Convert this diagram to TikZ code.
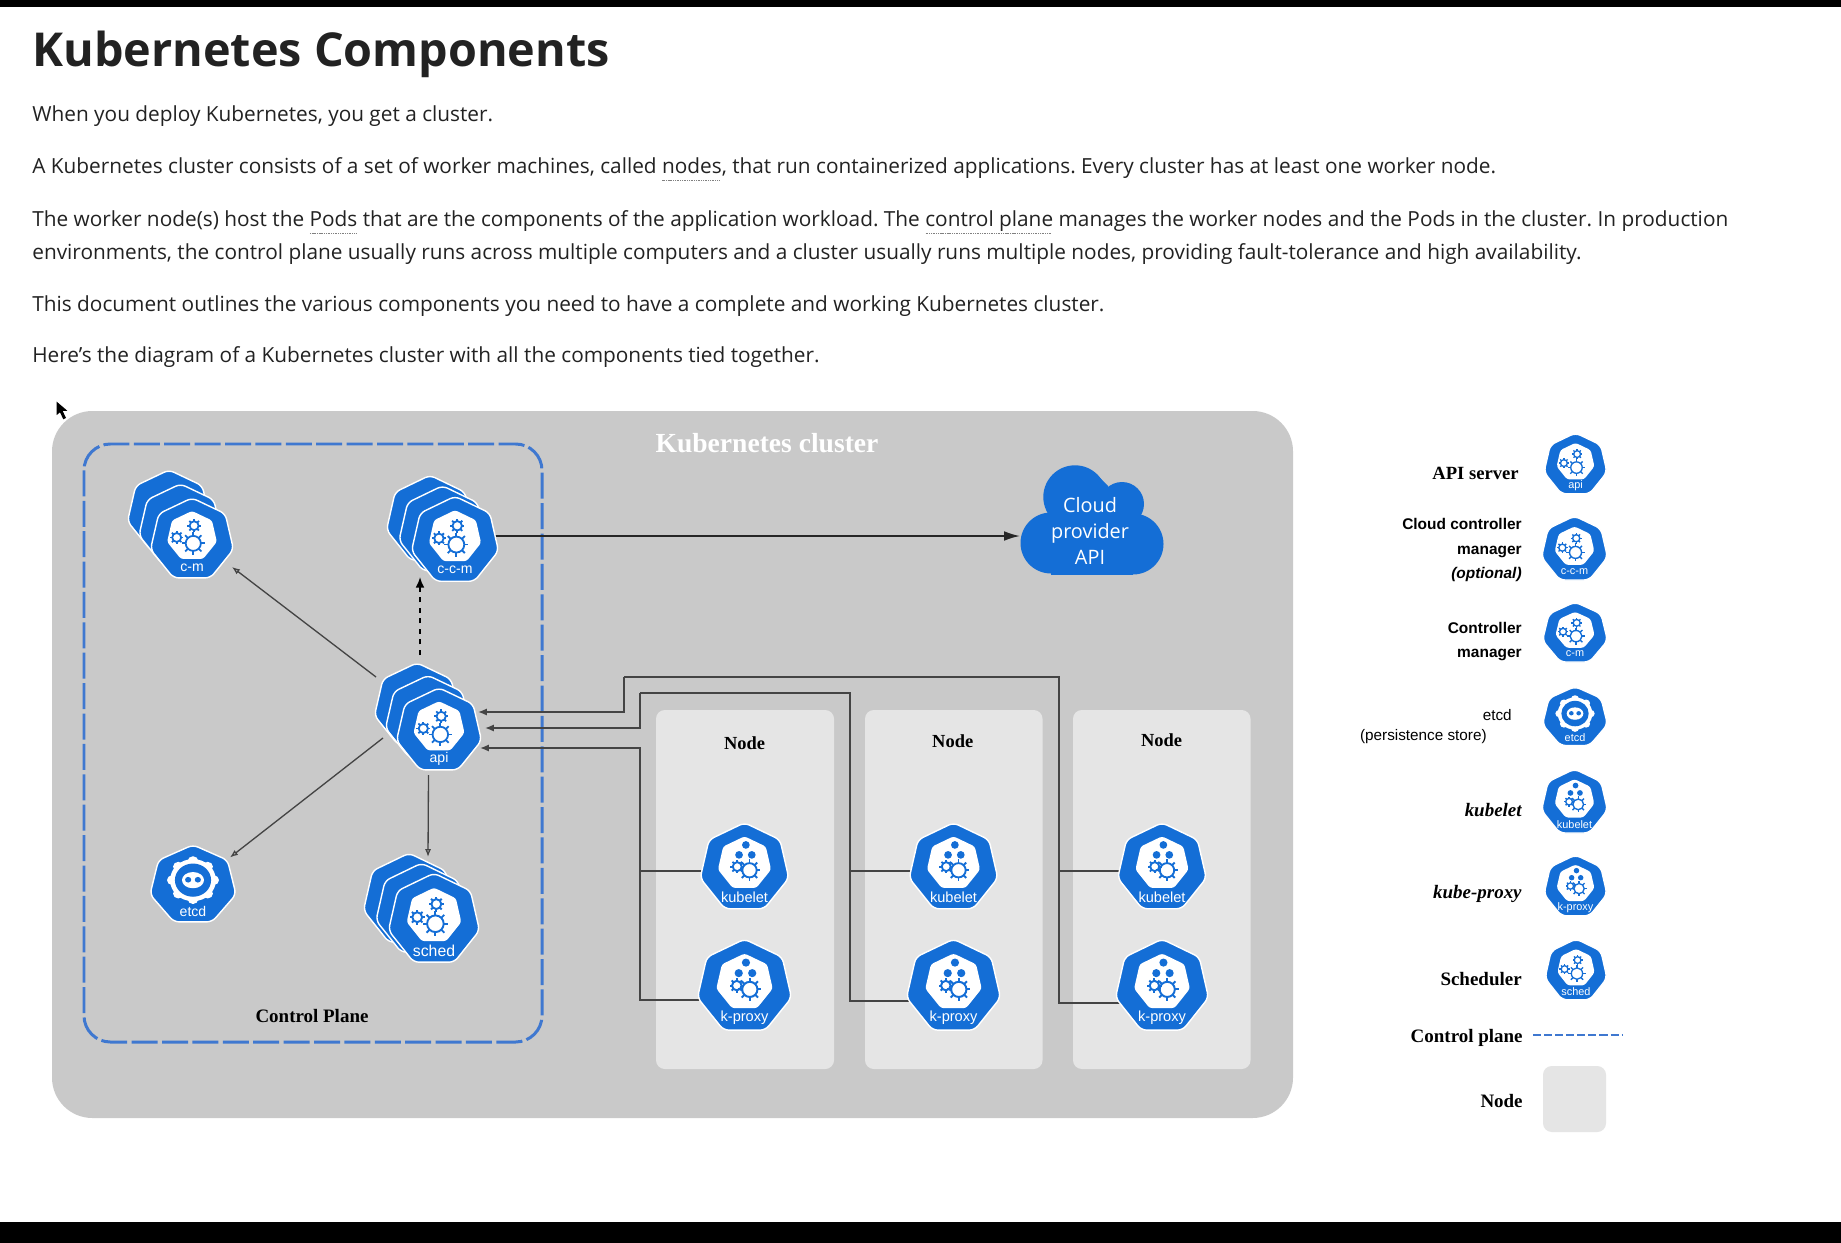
\documentclass[tikz,border=0pt]{standalone}
\usepackage{fontspec}
\setmainfont{Open Sans}
\newfontfamily\serifbit{Liberation Serif}
\newfontfamily\arialbit{Liberation Sans}
\usetikzlibrary{shapes.geometric,arrows.meta,calc}
\pgfdeclarelayer{back}
\pgfsetlayers{back,main}

\definecolor{kubeblue}{HTML}{146ED6}
\definecolor{planeblue}{HTML}{3F78D0}
\definecolor{clustergray}{HTML}{C9C9C9}
\definecolor{panelgray}{HTML}{E5E5E5}
\definecolor{inkgray}{HTML}{444444}
\definecolor{bodyink}{HTML}{222222}

\tikzset{
  hept/.style={regular polygon, regular polygon sides=7, inner sep=0pt, outer sep=0pt, transform shape},
  kubeouter/.style={hept, minimum size=2cm, fill=kubeblue, draw=white, line width=0.8pt, rounded corners=3pt},
  kubeinner/.style={hept, minimum size=1.2cm, fill=white, rounded corners=1.5pt},
  kubelabel/.style={text=white, inner sep=0pt, outer sep=0pt},
  gearstroke/.style={draw=kubeblue, line width=\kubelw},
  bodytext/.style={anchor=base west, inner sep=0pt, text=bodyink, font=\fontsize{11.84}{14}\selectfont\frenchspacing},
  serifbold/.style={inner sep=0pt, text=black, font=\fontsize{#1}{#1}\selectfont\serifbit\bfseries},
  arialbold/.style={inner sep=0pt, text=black, align=right, font=\fontsize{8.8}{14}\selectfont\arialbit\bfseries},
  panel/.style={fill=panelgray, rounded corners=5pt},
  wire/.style={draw=inkgray, line width=0.85pt},
  flow/.style={draw=inkgray, line width=0.75pt, -{Latex[open,length=4.5pt,width=3.5pt]}},
}

\newcommand{\dotword}[1]{\sbox0{#1}\rlap{\raisebox{-4.2pt}{\color{gray}\hbox to\wd0{\leaders\hbox to 1pt{\hss\rule{.6pt}{.5pt}\hss}\hfil}}}\usebox0}

\newcommand{\kubegear}[3]{%
  \draw[gearstroke] (#1,#2) circle (#3*0.66);
  \foreach \ang in {0,45,...,315}
    \draw[gearstroke] (#1,#2) ++(\ang:#3*0.66) -- ++(\ang:#3*0.34);
}
\newcommand{\gearglyph}{%
  \node[kubeinner] (\kubeid core) at (0,0.09) {};
  \kubegear{0.03}{-0.08}{0.27}
  \kubegear{-0.36}{0.06}{0.16}
  \kubegear{0.05}{0.34}{0.16}
}
\newcommand{\podglyph}{%
  \node[kubeinner] (\kubeid core) at (0,0.1) {};
  \fill[kubeblue] (0.03,0.51) circle (0.085);
  \fill[kubeblue] (-0.12,0.29) circle (0.085);
  \fill[kubeblue] (0.16,0.29) circle (0.085);
  \kubegear{-0.16}{0.03}{0.15}
  \kubegear{0.11}{-0.05}{0.24}
}
\newcommand{\etcdglyph}{%
  \foreach \ang in {0,45,...,315}
    \fill[white] (0,0.13) ++(\ang:0.47) circle (0.12);
  \fill[white] (0,0.13) circle (0.52);
  \fill[kubeblue] (0,0.13) circle (0.41);
  \fill[white] (0,0.13) ellipse (0.25 and 0.2);
  \fill[kubeblue] (-0.11,0.14) circle (0.07);
  \fill[kubeblue] (0.11,0.14) circle (0.07);
}
\newcommand{\kubeshell}[4]{%
  \begin{scope}[shift={(#2)},x=1cm,y=1cm,xscale={#3*0.02/1.95},yscale={#4*0.02/1.901}]
    \node[kubeouter] (#1) at (0,0) {};
  \end{scope}
}
\newcommand{\kubeicon}[7]{%
  \def\kubeid{#1}
  \pgfmathsetlengthmacro\kubelw{#3*0.012pt}
  \begin{scope}[shift={(#2)},x=1cm,y=1cm,xscale={#3*0.02/1.95},yscale={#4*0.02/1.901}]
    \node[kubeouter] (#1) at (0,0) {};
    #7
    \node[kubelabel, font={\fontsize{#6}{#6}\selectfont\arialbit}] (#1label) at (0,-0.65) {#5};
  \end{scope}
}

\begin{document}
\begin{tikzpicture}[x=0.02cm,y=-0.02cm]
\useasboundingbox (0,0) rectangle (1841,1243);

\begin{pgfonlayer}{back}
\fill[white] (0,0) rectangle (1841,1243);
\fill[clustergray, rounded corners=23pt] (52,411) rectangle (1293,1118);
\draw[planeblue, line width=1.7pt, dash pattern=on 14.8pt off 2.5pt, rounded corners=15pt] (84,444) rectangle (542,1042);
\fill[panel] (656,710) rectangle (834,1069);
\fill[panel] (865,710) rectangle (1042.5,1069);
\fill[panel] (1073,710) rectangle (1250.5,1069);
\end{pgfonlayer}

\fill[black] (0,0) rectangle (1841,7);
\fill[black] (0,1222) rectangle (1841,1243);
\fill[black] (56.7,401.7) -- (56.7,415) -- (60,412.3) -- (63.3,419.3) -- (66,418) -- (62.7,411) -- (67.3,410.7) -- cycle;

\node[anchor=base west, inner sep=0pt, text=bodyink, font=\fontsize{26.6}{30}\selectfont\bfseries] (title) at (32,67) {Kubernetes Components};
\node[bodytext] (line1) at (32,122) {When you deploy Kubernetes, you get a cluster.};
\node[bodytext] (line2) at (32,173.5) {A Kubernetes cluster consists of a set of worker machines, called \dotword{nodes}, that run containerized applications. Every cluster has at least one worker node.};
\node[bodytext] (line3) at (32,227) {The worker node(s) host the \dotword{Pods} that are the components of the application workload. The \dotword{control plane} manages the worker nodes and the Pods in the cluster. In production};
\node[bodytext] (line4) at (32,260) {environments, the control plane usually runs across multiple computers and a cluster usually runs multiple nodes, providing fault-tolerance and high availability.};
\node[bodytext] (line5) at (32,312) {This document outlines the various components you need to have a complete and working Kubernetes cluster.};
\node[bodytext] (line6) at (32,362) {Here's the diagram of a Kubernetes cluster with all the components tied together.};

\node[serifbold=15.7, text=white] (clustertitle) at (767,443) {Kubernetes cluster};
\node[serifbold=10.8] (planetitle) at (312,1016) {Control Plane};
\node[serifbold=10.5] (nodetitle1) at (744.5,743) {Node};
\node[serifbold=10.5] (nodetitle2) at (952.7,741) {Node};
\node[serifbold=10.5] (nodetitle3) at (1161.6,740) {Node};

\kubeshell{cmback}{169,512}{83}{80}
\kubeshell{cmmid}{180.5,526}{83}{80}
\kubeicon{cm}{192,540}{83}{80}{c-m}{8}{\gearglyph}

\kubeshell{ccmback}{430,520}{87}{85}
\kubeshell{ccmmid}{442.5,530.5}{87}{85}
\kubeicon{ccm}{455,541}{87}{85}{c-c-m}{8}{\gearglyph}

\kubeshell{apiback}{417,706}{85}{82}
\kubeshell{apimid}{428,718.5}{85}{82}
\kubeicon{api}{439,731}{85}{82}{api}{8}{\gearglyph}

\kubeicon{etcd}{193,885.4}{86}{77}{etcd}{8}{\etcdglyph}

\kubeshell{schedback}{409,900}{91}{89}
\kubeshell{schedmid}{421.5,910}{91}{89}
\kubeicon{sched}{434,920}{91}{89}{sched}{9}{\gearglyph}

\kubeicon{kubelet1}{744.5,868}{88.6}{86}{kubelet}{8.3}{\podglyph}
\kubeicon{kubelet2}{953.5,868}{88.6}{86}{kubelet}{8.3}{\podglyph}
\kubeicon{kubelet3}{1162,868}{88.6}{86}{kubelet}{8.3}{\podglyph}
\kubeicon{kproxy1}{744.5,987}{94}{91}{k-proxy}{8.3}{\podglyph}
\kubeicon{kproxy2}{953.5,987}{94}{91}{k-proxy}{8.3}{\podglyph}
\kubeicon{kproxy3}{1162,987}{93}{91}{k-proxy}{8.3}{\podglyph}

\fill[kubeblue] (1075,497) circle (31.7);
\fill[kubeblue] (1122,504) circle (22);
\fill[kubeblue] (1051,543) circle (30.5);
\fill[kubeblue] (1133,544) circle (30.5);
\fill[kubeblue] (1100,478) -- (1108,486) -- (1122,510) -- (1090,510) -- cycle;
\fill[kubeblue] (1051,512) rectangle (1133,574.5);
\node[text=white, align=center, inner sep=0pt, font=\fontsize{11.3}{14.8}\selectfont] (cloudapi) at (1090,531) {Cloud\\provider\\API};
\coordinate (cloudtip) at (1020,536);

\begin{pgfonlayer}{back}
\draw[wire, line width=1pt, draw=black!85, -{Latex[length=9pt,width=5.5pt]}] ($(ccm)+(0,-5)$) -- (cloudtip);
\draw[flow] ($(api)+(-63,-54)$) -- ($(cm)+(40,27)$);
\draw[flow] ($(api)+(-56,7)$) -- ($(etcd)+(37,-28)$);
\draw[flow] ($(api)+(-10.5,44)$) -- ($(sched)+(-6,-63)$);
\draw[draw=black, line width=1pt, dashed, -{Latex[length=6pt,width=5pt]}] ($(api)+(-19,-76)$) -- ($(ccm)+(-35,36)$);

\coordinate (busA) at (624,677);
\coordinate (busAend) at (1059,1003);
\coordinate (busB) at (640,693);
\coordinate (busBend) at (850,1001);
\coordinate (busC) at (640,1000);

\draw[wire] (kproxy3 |- busAend) -- (busAend) |- (busA);
\draw[wire, -{Latex[length=5pt,width=4pt]}] (busA) |- ($(api)+(39,-19)$);
\draw[wire] ($(kubelet3)+(0,3)$) -- ($(kubelet3 -| busAend)+(0,3)$);
\draw[wire] (kproxy2 |- busBend) -- (busBend) |- (busB);
\draw[wire, -{Latex[length=5pt,width=4pt]}] (busB) |- ($(api)+(46,-3)$);
\draw[wire] ($(kubelet2)+(0,3)$) -- ($(kubelet2 -| busBend)+(0,3)$);
\draw[wire, -{Latex[length=5pt,width=4pt]}] (kproxy1 |- busC) -- (busC) |- ($(api)+(41,17)$);
\draw[wire] ($(kubelet1)+(0,3)$) -- ($(kubelet1 -| busC)+(0,3)$);
\end{pgfonlayer}

\kubeicon{legapi}{1575.5,465}{63}{61}{api}{6.2}{\gearglyph}
\kubeicon{legccm}{1574.5,549.7}{66}{64}{c-c-m}{6.2}{\gearglyph}
\kubeicon{legcm}{1575,633.6}{65}{60}{c-m}{6.2}{\gearglyph}
\kubeicon{legetcd}{1575,717.6}{65}{59}{etcd}{6.2}{\etcdglyph}
\kubeicon{legkubelet}{1574.5,802.7}{66}{64}{kubelet}{6.2}{\podglyph}
\kubeicon{legproxy}{1575.5,887}{63}{61}{k-proxy}{6.2}{\podglyph}
\kubeicon{legsched}{1576,971}{62}{61}{sched}{6.2}{\gearglyph}

\node[serifbold=10.6, anchor=mid east] (txtapi) at (1519,475) {API server};
\node[arialbold, anchor=east] (txtccm) at (1522,550) {Cloud controller\\manager\\\textit{(optional)}};
\node[arialbold, anchor=east] (txtcm) at (1522,641.5) {Controller\\manager};
\node[inner sep=0pt, anchor=mid east, font=\fontsize{8.7}{10}\selectfont\arialbit] (txtetcd) at (1512,716) {etcd};
\node[inner sep=0pt, anchor=mid east, font=\fontsize{8.7}{10}\selectfont\arialbit] (txtstore) at (1487,736) {(persistence store)};
\node[serifbold=10.8, anchor=mid east] (txtkubelet) at (1522,812) {\itshape kubelet};
\node[serifbold=10.8, anchor=mid east] (txtproxy) at (1522,894) {\itshape kube-proxy};
\node[serifbold=10.8, anchor=mid east] (txtsched) at (1522,981) {Scheduler};
\node[serifbold=10.8, anchor=mid east] (txtplane) at (1523,1038) {Control plane};
\node[serifbold=10.8, anchor=mid east] (txtnode) at (1523,1103) {Node};

\coordinate (legdashA) at (1533,1035);
\coordinate (legdashB) at (1623,1035);
\draw[planeblue, line width=0.75pt, dash pattern=on 4.6pt off 1.7pt] (legdashA) -- (legdashB);
\fill[panel] (1543,1066) rectangle (1606,1132);
\end{tikzpicture}
\end{document}
